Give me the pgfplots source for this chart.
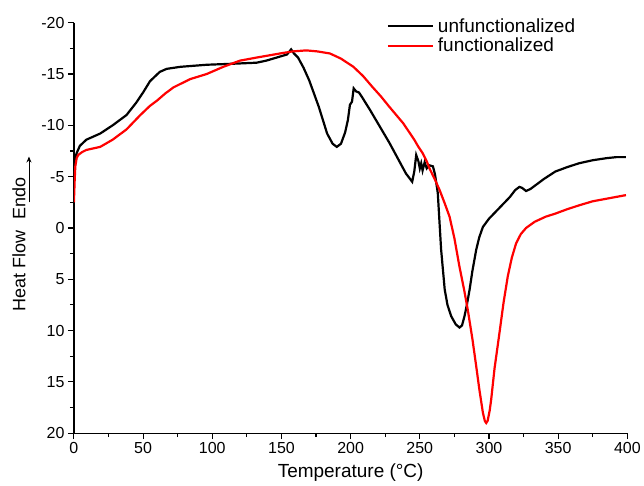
\documentclass[border=0pt]{standalone}
\usepackage{pgfplots}
\pgfplotsset{compat=1.18}
\usepackage{fontspec}
\setmainfont{Liberation Sans}
\usetikzlibrary{arrows.meta}
\begin{document}
\begin{tikzpicture}
\begin{axis}[
  name=ax,
  scale only axis,
  width=554pt, height=411pt,
  xmin=0, xmax=400, ymin=-20, ymax=20,
  y dir=reverse,
  axis x line*=bottom, axis y line*=left,
  axis line style={line width=1.3pt},
  xtick={0,50,...,400}, ytick={-20,-15,...,20},
  minor x tick num=1, minor y tick num=1,
  tick align=outside,
  major tick length=6pt, minor tick length=4pt,
  every tick/.style={line width=1.1pt, black},
  /pgf/number format/assume math mode=true,
  tick label style={font=\fontsize{16}{19}\selectfont},
  label style={font=\fontsize{19}{22}\selectfont},
  xlabel={Temperature (°C)},
  xlabel style={at={(axis description cs:0.5,0)}, anchor=north, yshift=-27pt},
  ylabel={Heat Flow\hspace{11pt}Endo},
  ylabel style={font=\fontsize{18}{21}\selectfont, at={([xshift=-55pt]axis description cs:0,0.459)}, anchor=center},
  legend style={at={(axis description cs:0.565,1.01)}, anchor=north west, draw=none, fill=none,
    font=\fontsize{19}{22}\selectfont, row sep=4pt, inner sep=0pt, nodes={inner xsep=4pt, inner ysep=0pt}},
  legend cell align=left,
  legend image code/.code={\draw[#1] (0pt,0pt) -- (45pt,0pt);},
]
\addplot[black, line width=2.2pt] coordinates {
(0,-4.5) (0.5,-6.2) (1,-6.8) (2,-7.3) (4.3,-8.0) (9,-8.6) (19,-9.2) (28,-10.0)
(38,-11.0) (45,-12.2) (50,-13.2) (55,-14.3) (62,-15.2) (67,-15.5) (77,-15.7)
(96,-15.9) (115,-16.0) (132,-16.1) (139,-16.3) (149,-16.7) (154,-16.9) (157,-17.4)
(159,-17.0) (162,-16.6) (166,-15.6) (170,-14.4) (177,-11.8) (183,-9.2) (187,-8.2)
(190,-7.9) (193,-8.2) (196,-9.3) (198,-10.5) (199.5,-12.0) (201,-12.3) (202.2,-13.6)
(204,-13.3) (206,-13.2) (208,-12.8) (214,-11.5) (221,-9.9) (228,-8.3) (234,-6.8)
(240,-5.3) (244.5,-4.5) (246,-5.5) (247.4,-7.1) (249,-6.5) (250,-5.8) (251,-6.3)
(252,-5.6) (253.5,-6.4) (255,-5.8) (257,-6.1) (259.5,-6.0) (261,-5.2) (263,-3.4)
(265.4,2.1) (268,6.0) (270,7.5) (272.7,8.6) (276,9.4) (278.7,9.7) (280.5,9.5)
(282.3,8.6) (284,7.5) (286,6.0) (288,4.2) (290.8,2.1) (293,0.9) (295.6,-0.1)
(300,-0.9) (305,-1.6) (310,-2.3) (315,-3.0) (319,-3.7) (322,-4.0) (324,-3.9)
(326.8,-3.6) (330,-3.8) (334,-4.2) (340,-4.8) (348,-5.5) (356,-5.9) (365,-6.3)
(375,-6.6) (385,-6.8) (392,-6.9) (399,-6.9)
};
\addlegendentry{unfunctionalized}
\addplot[red, line width=2.2pt] coordinates {
(0,-2.5) (0.5,-4.5) (1,-6.0) (2,-6.8) (3,-7.1) (6,-7.4) (9,-7.6) (19,-7.9)
(28,-8.6) (38,-9.6) (48,-11.0) (55,-11.9) (60,-12.4) (66,-13.1) (72,-13.7)
(78,-14.1) (84,-14.5) (96,-15.0) (108,-15.7) (120,-16.3) (132,-16.6) (149,-17.0)
(158,-17.2) (168,-17.3) (176,-17.2) (185,-17.0) (193,-16.5) (202,-15.7) (209,-14.8)
(216,-13.7) (222,-12.8) (228,-11.8) (233,-11.0) (238,-10.2) (242,-9.4) (246,-8.6)
(249,-7.9) (252,-7.3) (255,-6.5) (257,-5.8) (261,-4.7) (264.3,-3.7) (268,-2.4)
(271.5,-1.1) (275,1.0) (278.7,3.8) (282,6.0) (284.7,8.0) (288,10.8) (290.8,13.5)
(293,15.7) (295.6,18.0) (297,18.8) (298,19.0) (299,18.8) (300.5,17.8) (301.6,16.7)
(304,13.7) (307.6,10.2) (310.5,7.3) (313.6,4.7) (316.5,2.9) (319.6,1.5) (323,0.6)
(326.8,0.0) (333,-0.6) (341,-1.1) (348,-1.4) (356,-1.8) (365,-2.2) (375,-2.6)
(387,-2.9) (399,-3.2)
};
\addlegendentry{functionalized}
\end{axis}
\draw[-{Stealth[length=6pt,width=5pt]}, line width=0.9pt]
  ([shift={(-45pt,231pt)}]ax.south west) -- ([shift={(-45pt,277pt)}]ax.south west);
\path ([shift={(-74pt,-52pt)}]ax.south west) rectangle ([shift={(16pt,22.7pt)}]ax.north east);
\end{tikzpicture}
\end{document}
